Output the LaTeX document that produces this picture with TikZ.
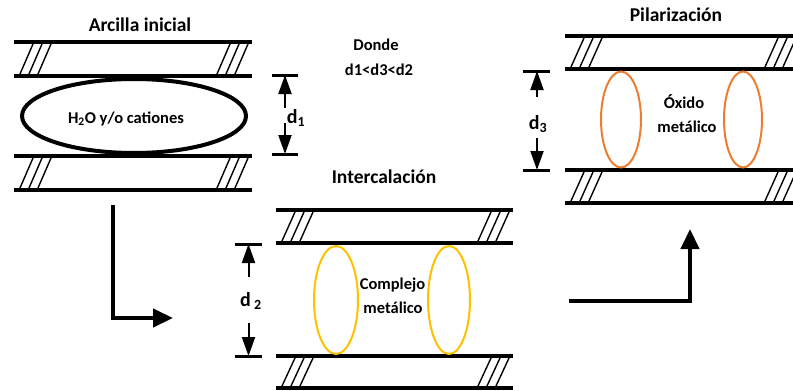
\documentclass[tikz,border=0pt]{standalone}
\usepackage{fontspec}
\setmainfont{Carlito}
\usetikzlibrary{arrows.meta,shapes.geometric}
\definecolor{oxorange}{HTML}{ED7D31}
\definecolor{cpyellow}{HTML}{FFC000}
\tikzset{
  slab/.style={line width=4pt},
  hatchline/.style={line width=1.4pt},
  lbl/.style={font=\fontsize{16.5}{18}\selectfont\bfseries, anchor=base, inner sep=0pt},
  ttl/.style={font=\fontsize{19.5}{22}\selectfont\bfseries, anchor=base, inner sep=0pt},
  dlbl/.style={font=\fontsize{20}{22}\selectfont\bfseries, anchor=base, inner sep=0pt},
  tickline/.style={line width=3pt},
  dimarrow/.style={line width=2pt, -{Triangle[length=19pt,width=13pt]}},
  flow/.style={line width=4.5pt, -{Triangle[length=20pt,width=18pt]}},
  pillar/.style={ellipse, draw, line width=2pt, inner sep=0pt},
}
% \clayer{x1}{x2}{ytop}{ybot}
\newcommand\clayer[4]{%
  \draw[slab] (#1,#3) -- (#2,#3);
  \draw[slab] (#1,#4) -- (#2,#4);
  \foreach \i in {0,1,2}{%
    \draw[hatchline] ({#1+6+9*\i},{#4-2}) -- ({#1+19+9*\i},{#3+2});
    \draw[hatchline] ({#2-17-9*\i},{#4-2}) -- ({#2-4-9*\i},{#3+2});
  }%
}
\begin{document}
\begin{tikzpicture}[x=1pt,y=-1pt]
\useasboundingbox (0,0) rectangle (793,391);
\begin{scope}
\clip (0,0) rectangle (793,391);
% ---------- Arcilla inicial ----------
\node[ttl] (t1) at (140,31) {Arcilla inicial};
\clayer{14}{252}{42}{76}
\clayer{14}{252}{156}{190}
\node[ellipse, draw, line width=4pt, inner sep=0pt, minimum width=224pt, minimum height=74pt] (e1) at (134,116) {};
\node[lbl] (t1in) at (126,123) {H\textsubscript{2}O y/o cationes};
% d1
\coordinate (d1a) at (272,75); \coordinate (d1b) at (298,75);
\coordinate (d1c) at (272,154); \coordinate (d1d) at (298,154);
\draw[tickline] (d1a) -- (d1b);
\draw[tickline] (d1c) -- (d1d);
\coordinate (d1top) at (285,75); \coordinate (d1bot) at (285,154);
\coordinate (d1u) at (285,108); \coordinate (d1l) at (285,123);
\draw[dimarrow] (d1u) -- (d1top);
\draw[dimarrow] (d1l) -- (d1bot);
\node[dlbl] (d1t) at (296,123) {d\textsubscript{1}};
% ---------- Donde ----------
\node[lbl] (dn) at (376,50) {Donde};
\node[lbl] (dr) at (379,75) {d1<d3<d2};
% ---------- Intercalacion ----------
\node[ttl] (t2) at (384,183) {Intercalación};
\clayer{276}{513}{210}{243}
\clayer{276}{513}{356}{388}
\node[pillar, draw=cpyellow, minimum width=44pt, minimum height=108pt] (y1) at (336,300) {};
\node[pillar, draw=cpyellow, minimum width=42pt, minimum height=108pt] (y2) at (449,300) {};
\node[lbl] (c1) at (392.5,289) {Complejo};
\node[lbl] (c2) at (393,313) {metálico};
% d2
\coordinate (d2a) at (235,244); \coordinate (d2b) at (262,244);
\coordinate (d2c) at (235,356); \coordinate (d2d) at (262,356);
\draw[tickline] (d2a) -- (d2b);
\draw[tickline] (d2c) -- (d2d);
\coordinate (d2top) at (248.5,244); \coordinate (d2bot) at (248.5,356);
\coordinate (d2u) at (248.5,277); \coordinate (d2l) at (248.5,323);
\draw[dimarrow] (d2u) -- (d2top);
\draw[dimarrow] (d2l) -- (d2bot);
\node[dlbl] (d2t) at (251,306) {d\,\textsubscript{2}};
% ---------- Pilarizacion ----------
\node[ttl] (t3) at (676,21) {Pilarización};
\clayer{565}{800}{36}{69}
\clayer{565}{800}{170}{203}
\node[pillar, draw=oxorange, minimum width=40pt, minimum height=96pt] (o1) at (621,119.5) {};
\node[pillar, draw=oxorange, minimum width=38pt, minimum height=96pt] (o2) at (743,119.5) {};
\node[lbl] (x1) at (684,108) {Óxido};
\node[lbl] (x2) at (687,132) {metálico};
% d3
\coordinate (d3a) at (523,71); \coordinate (d3b) at (550,71);
\coordinate (d3c) at (523,170); \coordinate (d3d) at (550,170);
\draw[tickline] (d3a) -- (d3b);
\draw[tickline] (d3c) -- (d3d);
\coordinate (d3top) at (537,71); \coordinate (d3bot) at (537,170);
\coordinate (d3u) at (537,97); \coordinate (d3l) at (537,138);
\draw[dimarrow] (d3u) -- (d3top);
\draw[dimarrow] (d3l) -- (d3bot);
\node[dlbl] (d3t) at (538,129) {d\textsubscript{3}};
% ---------- flow arrows ----------
\coordinate (f1s) at (113,205); \coordinate (f1e) at (173,318);
\draw[flow] (f1s) |- (f1e);
\coordinate (f2s) at (569,301); \coordinate (f2e) at (690,229);
\draw[flow] (f2s) -| (f2e);
\end{scope}
\end{tikzpicture}
\end{document}
